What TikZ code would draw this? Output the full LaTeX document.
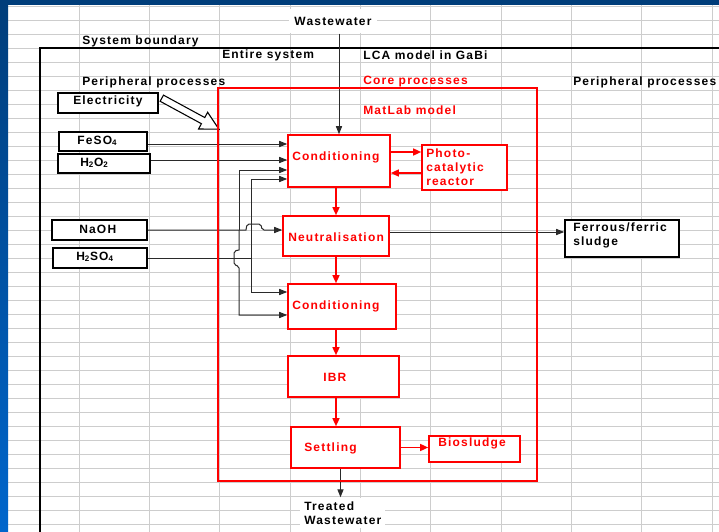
\documentclass[tikz,border=0pt]{standalone}
\usepackage{fontspec}
\newfontfamily\dgfont{Liberation Sans Bold}[LetterSpace=10]
\usetikzlibrary{arrows.meta,positioning,calc,fit}
\definecolor{cFrameD}{HTML}{003D7A}
\definecolor{cFrameL}{HTML}{0066CC}
\definecolor{cGrid}{HTML}{CDCDCD}
\definecolor{cRed}{HTML}{FF0000}
\definecolor{cWire}{HTML}{2A2A2A}
\tikzset{
  gridln/.style={draw=cGrid,line width=0.7pt},
  bound/.style={draw=black,line width=1.2pt},
  lbl/.style={font=\dgfont\fontsize{9}{10.6}\selectfont,inner sep=0pt,anchor=west},
  redlbl/.style={lbl,text=cRed},
  inbox/.style={draw=black,line width=1.2pt,fill=white,inner sep=0pt},
  inboxtext/.style={lbl,align=left},
  procbox/.style={draw=cRed,line width=1.2pt,fill=white,inner sep=0pt},
  procboxtext/.style={lbl,align=left,text=cRed},
  wire/.style={draw=cWire,line width=0.75pt},
  wirearr/.style={wire,-{Triangle[length=6pt,width=4.6pt]}},
  flow/.style={draw=cRed,line width=1.2pt,-{Triangle[length=6pt,width=5.2pt]}},
}
% box from corners (x1,y1)-(x2,y2) plus its label at (tx,ty)
\newcommand{\pbox}[9]{%
  \node[#1,fit={(#3,#4) (#5,#6)}] (#2) {};
  \node[#1text] (#2-t) at (#7,#8) {#9};}

\begin{document}
\begin{tikzpicture}[x=0.75pt,y=-0.75pt]
  \useasboundingbox (0,0) rectangle (719,532);
  % sheet
  \fill[white] (0,0) rectangle (719,532);
  \foreach \r in {0,...,37} \draw[gridln] (8,{6+14*\r}) -- (719,{6+14*\r});
  \foreach \c in {0,...,9} \draw[gridln] ({79+70.37*\c},5) -- ({79+70.37*\c},532);
  \fill[cFrameD] (0,0) rectangle (719,5);
  \shade[top color=cFrameD,bottom color=cFrameL] (0,0) rectangle (8,532);

  \draw[bound] (40,532) -- (40,48) -- (719,48);

  \node[lbl] (sysb) at (82,41) {System boundary};
  \node[lbl] (ent) at (222,55) {Entire system};
  \node[lbl] (lca) at (363,55) {LCA model in GaBi};
  \node[lbl] (perl) at (82,82) {Peripheral processes};
  \node[redlbl] (core) at (363,82) {Core processes};
  \node[lbl] (perr) at (573,82) {Peripheral processes};
  \node[redlbl] (mat) at (363,110) {MatLab model};

  \node[lbl,anchor=center,fill=white,inner xsep=4pt,minimum height=18.5pt] (ww) at (333,21) {Wastewater};
  \node[lbl,align=left,fill=white,inner xsep=3pt,inner ysep=3pt] (tw) at (300,513) {Treated\\Wastewater};

  \pbox{inbox}{elec}{58}{93}{158}{113}{73}{101}{Electricity}
  \pbox{inbox}{fe}{59}{132}{147}{151}{77}{141}{FeSO\textsubscript{4}}
  \pbox{inbox}{hp}{58}{154}{150}{173}{80}{163}{H\textsubscript{2}O\textsubscript{2}}
  \pbox{inbox}{na}{52}{220}{147}{240}{79}{229}{NaOH}
  \pbox{inbox}{sa}{53}{248}{147}{268}{76}{257}{H\textsubscript{2}SO\textsubscript{4}}
  \pbox{inbox}{fs}{565}{220}{679}{257}{573}{235}{Ferrous/ferric\\sludge}

  \pbox{procbox}{c1}{288}{135}{390}{187}{292}{157}{Conditioning}
  \pbox{procbox}{pr}{422}{145}{507}{190}{426}{167}{Photo-\\catalytic\\reactor}
  \pbox{procbox}{ne}{283}{216}{389}{256}{288}{237}{Neutralisation}
  \pbox{procbox}{c2}{288}{284}{396}{329}{292}{306}{Conditioning}
  \pbox{procbox}{ibr}{288}{356}{399}{397}{323}{377}{IBR}
  \pbox{procbox}{st}{291}{427}{400}{468}{304}{448}{Settling}
  \pbox{procbox}{bio}{429}{436}{520}{462}{438}{443}{Biosludge}

  % inputs
  \draw[wirearr] (ww.south -| c1.north) -- (c1.north);
  \draw[wirearr] (fe.east |- 0,144) -- (c1.west |- 0,144);
  \draw[wirearr] (hp.east |- 0,160) -- (c1.west |- 0,160);
  \coordinate (busL) at (239,230);
  \coordinate (busR) at (251,258);
  \draw[wirearr] (na.east) -- (246,230) [rounded corners=1.5pt] -- (247,224) -- (261,224)
    -- (262,230) [sharp corners] -- (ne.west |- na.east);
  \draw[wire] (sa.east) -- (busR);
  \draw[wirearr] (busL) |- (c1.west |- 0,170);
  \draw[wirearr] (busR) |- (c1.west |- 0,179);
  \draw[wirearr] (busR) |- (c2.west |- 0,292);
  \draw[wirearr] (busL) -- (239,250) [rounded corners=1.5pt] -- (234,251) -- (234,265)
    -- (239,266) [sharp corners] |- (c2.west |- 0,315);
  \draw[wirearr] (ne.east |- 0,232) -- (fs.west |- 0,232);
  \coordinate (sout) at ($(st.south)+(-5,0)$);
  \draw[wirearr] (sout) -- (sout |- tw.north);

  % electricity
  \begin{scope}[shift={($(elec.north east)+(3,6)$)},rotate=-28.5]
    \draw[line width=0.8pt,fill=white] (0,-3.5) -- (47,-3.5) -- (47,-9.5) -- (65,0)
      -- (47,9.5) -- (47,3.5) -- (0,3.5) -- cycle;
  \end{scope}

  % core chain
  \draw[flow] (c1.east |- 0,152) -- (pr.west |- 0,152);
  \draw[flow] (pr.west |- 0,173) -- (c1.east |- 0,173);
  \draw[flow] (ne.north |- c1.south) -- (ne.north);
  \draw[flow] (ne.south) -- (ne.south |- c2.north);
  \draw[flow] (c2.south -| ne.south) -- (ibr.north -| ne.south);
  \draw[flow] (ibr.south -| ne.south) -- (st.north -| ne.south);
  \draw[flow] (st.east) -- (st.east -| bio.west);

  \node[draw=cRed,line width=1.2pt,fit={(218,88) (537,481)},inner sep=0pt] (mlb) {};
\end{tikzpicture}
\end{document}
